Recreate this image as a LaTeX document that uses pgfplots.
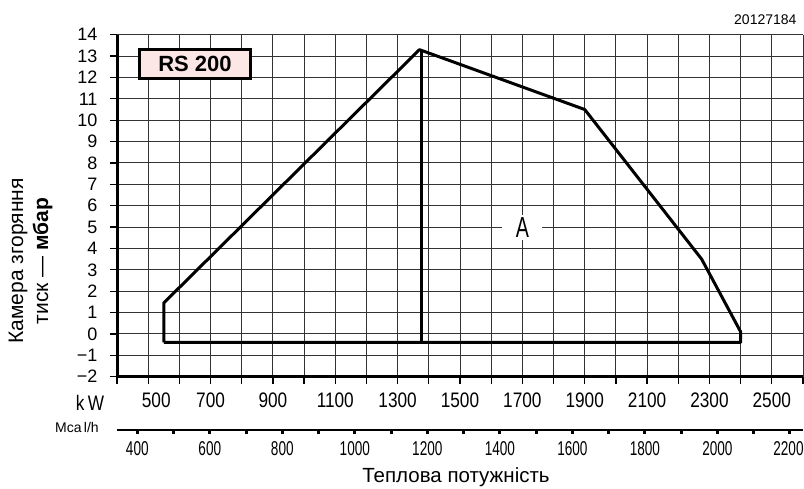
\documentclass[border=0pt]{standalone}
\usepackage{fontspec}
\setmainfont{Liberation Sans}
\newfontfamily\narrowfont[FakeStretch=0.82]{Liberation Sans}
\newfontfamily\condfont[FakeStretch=0.68]{Liberation Sans}
\usepackage{pgfplots}
\pgfplotsset{compat=1.18}
\definecolor{boxpink}{RGB}{253,230,230}
\begin{document}
\begin{tikzpicture}[x=1pt,y=1pt]
\begin{axis}[
  at={(117pt,111.3pt)}, anchor=south west,
  scale only axis, width=686pt, height=342pt,
  xmin=400, xmax=2600, ymin=-2, ymax=14,
  clip=false,
  axis x line=bottom, axis y line=left,
  axis line style={-, line width=3pt, black},
  xtick={400,500,...,2600},
  xticklabels={,,,700,,900,,1100,,1300,,1500,,1700,,1900,,2100,,2300,,2500,},
  extra x ticks={526},
  extra x tick labels={500},
  extra x tick style={grid=none, tick style={draw=none}},
  ytick={-2,-1,...,14},
  yticklabels={−2,−1,0,1,2,3,4,5,6,7,8,9,10,11,12,13,14},
  grid=major,
  grid style={black!80, line width=1pt},
  tick align=outside,
  major tick length=7pt,
  tick style={black, line width=1.2pt},
  yticklabel style={font=\fontsize{18}{19}\selectfont, xshift=-9pt},
  xticklabel style={font=\narrowfont\fontsize{21}{24}\selectfont, yshift=-6pt},
]
\addplot[line width=3pt, line join=round, black] coordinates {
  (550,-0.4) (550,1.45) (1370,13.3) (1900,10.5) (2275,3.5) (2400,0.1) (2400,-0.4) (550,-0.4)
};
\addplot[line width=3pt, black] coordinates {(1376,13.25) (1376,-0.4)};
\node[fill=white, inner sep=0pt, minimum width=40pt, minimum height=25pt,
      font=\condfont\fontsize{29}{30}\selectfont] at (axis cs:1700,5) {A};
\node[draw, line width=3pt, fill=boxpink, minimum width=111pt, minimum height=29pt,
      inner sep=0pt, font=\bfseries\fontsize{22}{24}\selectfont] at (axis cs:650,12.63) {RS 200};
\end{axis}
\begin{axis}[
  at={(117pt,58pt)}, anchor=south west,
  scale only axis, width=686pt, height=10pt,
  xmin=344, xmax=2236, ymin=0, ymax=1,
  axis x line=bottom, axis y line=none,
  axis line style={-, line width=2.5pt, black},
  xtick={400,600,...,2200},
  xticklabels={400,600,800,1000,1200,1400,1600,1800,2000,2200\hspace*{3pt}},
  minor xtick={500,700,...,2100},
  tick align=outside,
  major tick length=4pt, minor tick length=4pt,
  tick style={black, line width=3pt},
  xticklabel style={font=\condfont\fontsize{20}{22}\selectfont, yshift=-4pt},
]
\addplot[draw=none] coordinates {(400,0)};
\end{axis}
\node[font=\narrowfont\fontsize{21}{24}\selectfont] at (90,85.3) {k\,W};
\node[font=\fontsize{14}{16}\selectfont] at (77,61) {Mca\,l/h};
\node[rotate=90, align=center, font=\fontsize{21}{25}\selectfont] at (30.5,227) {Камера згоряння\\тиск — \textbf{мбар}};
\node[font=\fontsize{20.5}{24}\selectfont] at (456,11) {Теплова потужність};
\node[anchor=east, font=\fontsize{14}{16}\selectfont] at (800,468) {20127184};
\pgfresetboundingbox
\useasboundingbox (0,0) rectangle (804,488);
\end{tikzpicture}
\end{document}
